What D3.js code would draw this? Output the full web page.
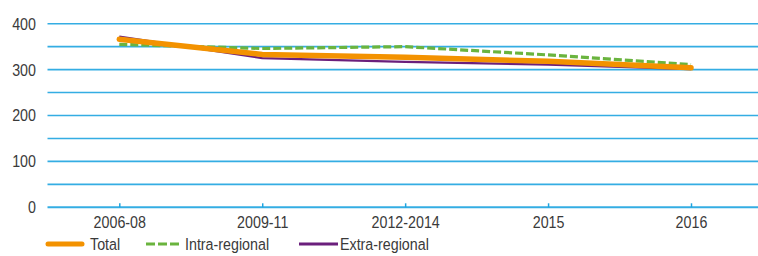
<!DOCTYPE html>
<html>
<head>
<meta charset="utf-8">
<script src="https://cdn.jsdelivr.net/npm/d3@7"></script>
<style>
  body { margin: 0; background: #fff; }
  svg { display: block; font-family: "Liberation Sans", Arial, sans-serif; }
</style>
</head>
<body>
<div id="wrapper"></div>
<script>
const periods = ["2006-08", "2009-11", "2012-2014", "2015", "2016"];
const total = [366, 333, 327, 318, 304];
const intraRegional = [355, 346, 350, 332, 311];
const extraRegional = [372, 325, 317, 311, 301];
const yTicks = [0, 100, 200, 300, 400];
const gridValues = [0, 50, 100, 150, 200, 250, 300, 350, 400];

const series = [
  { name: "Intra-regional", values: intraRegional, color: "#6ab43e", width: 3.2, dash: "8,3" },
  { name: "Extra-regional", values: extraRegional, color: "#6b1f7c", width: 2.2, dash: null },
  { name: "Total", values: total, color: "#f39200", width: 5.5, dash: null },
];
const legendOrder = ["Total", "Intra-regional", "Extra-regional"];

// the source font is a condensed one, so squeeze Liberation Sans
const squeeze = 0.84;

function chartDraw() {
  const dimensions = { width: 758, height: 256 };

  const wrapper = d3.select("#wrapper")
    .append("svg")
    .attr("width", dimensions.width)
    .attr("height", dimensions.height);

  const xScaler = d3.scalePoint()
    .domain(periods)
    .range([119.3, 691])

  const yScaler = d3.scaleLinear()
    .domain([0, 400])
    .range([207.3, 23.7])

  // grid lines
  wrapper.append("g")
    .selectAll("line")
    .data(gridValues)
    .enter()
    .append("line")
    .attr("x1", 47.5)
    .attr("x2", dimensions.width)
    .attr("y1", d => yScaler(d))
    .attr("y2", d => yScaler(d))
    .attr("stroke", "#1ea4e0")
    .attr("stroke-width", d => d == 0 ? 2 : 1.6)
    .attr("stroke-opacity", 0.9);

  // y labels
  const yAxis = wrapper.append("g")
    .attr("transform", "translate(36,0)")
    .call(d3.axisLeft(yScaler).tickValues(yTicks).tickSize(0).tickPadding(0));
  yAxis.select(".domain").remove();
  yAxis.selectAll("text")
    .attr("font-size", "17px")
    .attr("fill", "#3a3a3a")
    .attr("font-family", "Liberation Sans, sans-serif")
    .attr("transform", `scale(${squeeze},1)`);

  // x axis ticks pointing up
  const xAxis = wrapper.append("g")
    .attr("transform", `translate(0,${yScaler(0)})`)
    .call(d3.axisBottom(xScaler).tickSize(-4).tickPadding(9));
  xAxis.select(".domain").remove();
  xAxis.selectAll("line").attr("stroke", "#1ea4e0").attr("stroke-width", 1.5);
  xAxis.selectAll("text")
    .attr("font-size", "17px")
    .attr("fill", "#3a3a3a")
    .attr("font-family", "Liberation Sans, sans-serif")
    .attr("transform", `scale(${squeeze},1)`);

  const lineGen = d3.line()
    .x((d, i) => xScaler(periods[i]))
    .y(d => yScaler(d));

  wrapper.append("g")
    .selectAll("path")
    .data(series)
    .enter()
    .append("path")
    .attr("d", d => lineGen(d.values))
    .attr("fill", "none")
    .attr("stroke", d => d.color)
    .attr("stroke-width", d => d.width)
    .attr("stroke-dasharray", d => d.dash)
    .attr("stroke-linecap", d => d.name == "Total" ? "round" : "butt");

  // legend
  const legendX = [48, 146, 299];
  const legend = wrapper.append("g")
    .selectAll("g")
    .data(legendOrder.map(n => series.find(s => s.name == n)))
    .enter()
    .append("g")
    .attr("transform", (d, i) => `translate(${legendX[i]},244)`);

  legend.append("line")
    .attr("x1", 0)
    .attr("x2", d => d.name == "Extra-regional" ? 39 : 34)
    .attr("stroke", d => d.color)
    .attr("stroke-width", d => d.name == "Total" ? 5 : 3)
    .attr("stroke-linecap", d => d.name == "Total" ? "round" : "butt")
    .attr("stroke-dasharray", d => d.dash ? "9,3" : null);

  legend.append("text")
    .attr("x", d => (d.name == "Total" ? 42 : d.name == "Extra-regional" ? 41 : 39) / squeeze)
    .attr("y", 6)
    .attr("transform", `scale(${squeeze},1)`)
    .text(d => d.name)
    .attr("font-size", "17px")
    .attr("fill", "#3a3a3a");
}

chartDraw();
</script>
</body>
</html>
